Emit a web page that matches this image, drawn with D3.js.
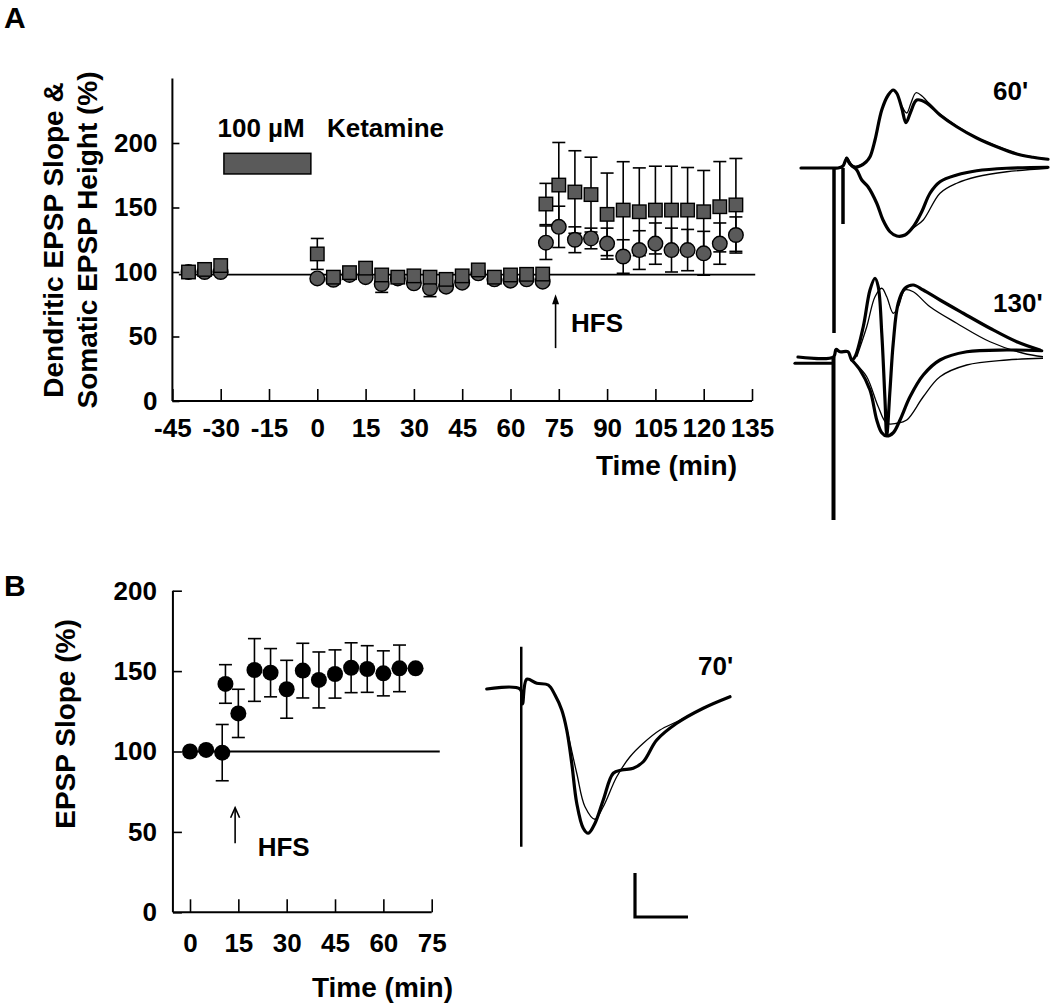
<!DOCTYPE html>
<html>
<head>
<meta charset="utf-8">
<script src="https://cdn.jsdelivr.net/npm/d3@7/dist/d3.min.js"></script>
<style>
body{margin:0;background:#fff;}
text{font-family:"Liberation Sans",Arial,Helvetica,sans-serif;font-weight:bold;fill:#000;}
</style>
</head>
<body>
<script>
// ---------------- DATA ----------------
// Panel A: time (min) and % values
const timesA = [-40,-35,-30,0,5,10,15,20,25,30,35,40,45,50,55,60,65,70,71,75,80,85,90,95,100,105,110,115,120,125,130];
const dendriticA = [100,102,105,114,96,99.5,103,97.7,96,97,96,94.3,97,101.6,96,97.7,98.2,98.4,152.7,167.4,162,160,144.7,148,146.7,148,148,148,146.7,150.6,152];
const dendriticErrA = [2,2,3,12,3,3,3,3,3,3,3,3,3,2,3,3,3,3,16,33,32,29,32,37.5,34,34,34,33,32,35,36];
const somaticA = [100,100,100,95,94,97.7,96,90.7,95,91.2,87.4,88.6,91.7,99,94.3,93.3,94.3,92.5,122.7,135,125,126,122,112,117,122,117,117,114.5,122,128.7];
const somaticErrA = [1,1,1,2,2,2,2,6.5,2,3,6.5,3,2,2,2,2,2,2,13,16,10,8,12,13,15,16,17,16,17,16,14];
const xTicksA = [-45,-30,-15,0,15,30,45,60,75,90,105,120,135];
const yTicksA = [0,50,100,150,200];
const drugA = {start:-29, end:-2, low:176, high:192, label1:"100 µM", label2:"Ketamine"};
const hfsA = 74;
const baselineA = {from:-43, to:136, value:98};

// Panel B
const timesB = [0,5,10,11,15,20,25,30,35,40,45,50,55,60,65,70];
const slopeB = [100,101,99.3,142,123.7,150.7,149,138.7,150.3,144.5,148.2,152.1,151.3,148.6,151.7,151.7];
const errB = [0,0,17.5,12,15,19.5,15,18,17,17.4,15,15.5,14.5,14,14.5,0];
const xTicksB = [0,15,30,45,60,75];
const yTicksB = [0,50,100,150,200];
const hfsB = 14;
const baselineB = {from:0, to:77.5, value:100};

// Traces: [ms, mV]
const tr60ThickUp = [[2.4,0],[15.2,0],[17.2,0],[19.2,0.08],[20.7,0.39],[22,0.16],[24,0.04],[26,0.08],[28.4,0.24],[30,0.45],[32,1.12],[34.7,2.32],[37.3,2.92],[39.3,3.12],[40.7,2.99],[42.7,2.4],[44.4,1.81],[46.3,2.25],[48.7,2.72],[52.7,2.6],[58,2.12],[64.7,1.65],[72.7,1.2],[80.7,0.85],[88.7,0.56],[95.2,0.43],[101.2,0.35]];
const tr60ThinUp = [[24,0.04],[28.4,0.24],[30,0.44],[32,1.12],[34.7,2.32],[37.3,2.92],[39.3,3.12],[40.7,2.99],[42.7,2.48],[44.7,2.2],[46.4,2.6],[48.4,3.01],[50.8,2.88],[52.7,2.68],[58,2.16],[64.7,1.68],[72.7,1.22],[80.7,0.88],[88.7,0.58],[95.2,0.44],[101.2,0.36]];
const tr60ThickDown = [[20.7,0.39],[22.4,0.12],[24.7,-0.08],[26.7,-0.48],[29.2,-0.75],[32.7,-1.41],[35.2,-2.08],[38,-2.55],[40.7,-2.72],[44,-2.68],[47.3,-2.35],[50.7,-1.75],[54,-1.01],[58,-0.55],[64.7,-0.28],[72.7,-0.11],[84.7,-0.01],[101.2,0.03]];
const tr60ThinDown = [[24.7,-0.08],[26.7,-0.48],[29.2,-0.75],[32.7,-1.41],[35.2,-2.08],[38,-2.55],[40.7,-2.72],[44,-2.68],[47.3,-2.4],[51.3,-2.08],[58,-1.01],[64.7,-0.61],[72.7,-0.35],[84.7,-0.15],[101.2,-0.01]];
const tr60Artifacts = [[15.6,0,-6.6],[19.2,0,-2.24]];

const tr130Base2 = [[0,-0.25],[14.6,-0.25]];
const tr130ThickUp = [[1.2,0],[15.4,0],[16.4,0.3],[18,0.21],[21.2,0.21],[22.7,-0.12],[24,0.01],[27.3,1.21],[30,2.68],[32,3.15],[33.3,2.81],[34.7,0.96],[36,-1.72],[36.7,-3.12],[38,-1.32],[39.3,0.56],[41.3,2.16],[44,2.75],[47.3,2.88],[51.3,2.68],[58,2.28],[67.3,1.75],[78,1.15],[88.7,0.61],[98,0.28]];
const tr130ThinUp = [[24.7,0.01],[28.7,1.21],[32,2.41],[34.7,2.75],[36.7,2.41],[39.3,1.75],[41.3,2.01],[44,2.68],[47.3,2.61],[54,2.01],[64.7,1.35],[78,0.61],[91.3,0.15],[99.2,0.01]];
const tr130ThickDown = [[22.7,-0.12],[26,-0.52],[30,-1.32],[32.7,-2.52],[34.7,-3.03],[36.7,-3.16],[39.3,-3.03],[42,-2.52],[46,-1.59],[51.3,-0.72],[58,-0.12],[68.7,0.21],[84.7,0.28],[98.7,0.25]];
const tr130ThinDown = [[24.7,-0.32],[28.7,-0.79],[33.3,-1.99],[36.7,-2.65],[40.7,-2.65],[44.7,-2.52],[51.3,-1.59],[58,-0.79],[68.7,-0.32],[84.7,-0.12],[99.2,-0.05]];
const tr130Artifacts = [[15.4,0,-6.52]];

const tr70Thick = [[2.7,0],[16,0],[17,-0.6],[18.7,0.39],[22.7,0.23],[27.3,0.16],[30,-0.24],[32.7,-0.84],[34.7,-1.64],[36.7,-2.97],[38.7,-4.57],[41.3,-5.57],[43.3,-5.77],[46,-5.37],[49.3,-4.44],[53.3,-3.37],[56.7,-3.24],[61.3,-3.17],[65.3,-2.91],[70.7,-2.04],[78.7,-1.37],[89.3,-0.77],[100,-0.31]];
const tr70Thin = [[30,-0.24],[32.7,-0.84],[34.7,-1.6],[38.7,-3.37],[42,-4.71],[46,-5.21],[49.3,-4.71],[54.7,-3.51],[60,-2.71],[65.3,-2.17],[72,-1.64],[78.7,-1.31],[89.3,-0.77]];
const tr70Artifacts = [[16.5,1.69,-6.31]];
const scaleBar = {t:62, v:-9.12, dt:21.2, dv:1.76};

// ---------------- DRAW ----------------
const svg = d3.select("body").append("svg").attr("width",1050).attr("height",1007);
const GREY = "#5a5a5a";
const fmt = d => String(d);

svg.append("text").attr("x",4).attr("y",28).attr("font-size",30).text("A");
svg.append("text").attr("x",4).attr("y",596).attr("font-size",30).text("B");

// ---- Panel A ----
const xA = d3.scaleLinear().domain([-45,135]).range([172.4,752]);
const yA = d3.scaleLinear().domain([0,250]).range([401,78.5]);
const gA = svg.append("g");

function styleAxis(sel, fs){
  sel.select(".domain").remove();
  sel.selectAll(".tick line").attr("stroke","#000").attr("stroke-width",1.6);
  sel.selectAll(".tick text").attr("font-size",fs).attr("font-family",'"Liberation Sans",Arial,sans-serif').attr("font-weight","bold").attr("fill","#000");
}
const yAxA = gA.append("g").attr("transform",`translate(${xA(-45)},0)`)
  .call(d3.axisLeft(yA).tickValues(yTicksA).tickSize(-7).tickPadding(15).tickFormat(fmt));
styleAxis(yAxA,26);
const xAxA = gA.append("g").attr("transform",`translate(0,${yA(0)})`)
  .call(d3.axisBottom(xA).tickValues(xTicksA).tickSize(-12).tickPadding(17.5).tickFormat(fmt));
styleAxis(xAxA,26);
gA.append("line").attr("x1",xA(-45)).attr("x2",xA(-45)).attr("y1",yA(250)).attr("y2",yA(0)).attr("stroke","#000").attr("stroke-width",2);
gA.append("line").attr("x1",xA(-45)).attr("x2",xA(135)).attr("y1",yA(0)).attr("y2",yA(0)).attr("stroke","#000").attr("stroke-width",2);

// baseline
gA.append("line").attr("x1",xA(baselineA.from)).attr("x2",xA(baselineA.to))
  .attr("y1",yA(baselineA.value)).attr("y2",yA(baselineA.value)).attr("stroke","#000").attr("stroke-width",1.8);

// drug bar
gA.append("rect").attr("x",xA(drugA.start)).attr("y",yA(drugA.high))
  .attr("width",xA(drugA.end)-xA(drugA.start)).attr("height",yA(drugA.low)-yA(drugA.high))
  .attr("fill",GREY).attr("stroke","#000").attr("stroke-width",1.5);
gA.append("text").attr("x",xA(-31)).attr("y",yA(205)).attr("font-size",26).text(drugA.label1);
gA.append("text").attr("x",xA(3)).attr("y",yA(205)).attr("font-size",26).text(drugA.label2);

// error bars
const seriesA = [
  {vals:somaticA, err:somaticErrA},
  {vals:dendriticA, err:dendriticErrA}
];
const capW = 6.5;
seriesA.forEach(s=>{
  timesA.forEach((t,i)=>{
    const e = s.err[i]; if(!e) return;
    const x = xA(t), y1 = yA(s.vals[i]+e), y2 = yA(s.vals[i]-e);
    gA.append("line").attr("x1",x).attr("x2",x).attr("y1",y1).attr("y2",y2).attr("stroke","#000").attr("stroke-width",1.6);
    [y1,y2].forEach(yy=>gA.append("line").attr("x1",x-capW).attr("x2",x+capW).attr("y1",yy).attr("y2",yy).attr("stroke","#000").attr("stroke-width",1.6));
  });
});
// circles (somatic)
gA.selectAll("circle.som").data(timesA).join("circle").attr("class","som")
  .attr("cx",d=>xA(d)).attr("cy",(d,i)=>yA(somaticA[i])).attr("r",7.3)
  .attr("fill",GREY).attr("stroke","#000").attr("stroke-width",1.4);
// squares (dendritic)
const sq = 13.5;
gA.selectAll("rect.den").data(timesA).join("rect").attr("class","den")
  .attr("x",d=>xA(d)-sq/2).attr("y",(d,i)=>yA(dendriticA[i])-sq/2).attr("width",sq).attr("height",sq)
  .attr("fill",GREY).attr("stroke","#000").attr("stroke-width",1.4);

// HFS arrow A
gA.append("line").attr("x1",xA(hfsA)).attr("x2",xA(hfsA)).attr("y1",yA(41)).attr("y2",yA(80)).attr("stroke","#000").attr("stroke-width",1.6);
gA.append("path").attr("d",`M${xA(hfsA)},${yA(82)-1} l-3.5,10 l7,0 z`).attr("fill","#000");
gA.append("text").attr("x",xA(78.8)).attr("y",yA(53.5)).attr("font-size",26).text("HFS");

// axis titles A
gA.append("text").attr("transform",`translate(63,240) rotate(-90)`).attr("text-anchor","middle").attr("font-size",28).text("Dendritic EPSP Slope &");
gA.append("text").attr("transform",`translate(97,240) rotate(-90)`).attr("text-anchor","middle").attr("font-size",28).text("Somatic EPSP Height (%)");
gA.append("text").attr("x",737).attr("y",475).attr("text-anchor","end").attr("font-size",28).text("Time (min)");

// ---- Panel B ----
const xB = d3.scaleLinear().domain([0,75]).range([190,431.7]);
const yB = d3.scaleLinear().domain([0,200]).range([912.3,590.7]);
const gB = svg.append("g");
const xBstart = -5.3;
const yAxB = gB.append("g").attr("transform",`translate(${xB(xBstart)},0)`)
  .call(d3.axisLeft(yB).tickValues(yTicksB).tickSize(-9).tickPadding(16).tickFormat(fmt));
styleAxis(yAxB,26);
const xAxB = gB.append("g").attr("transform",`translate(0,${yB(0)})`)
  .call(d3.axisBottom(xB).tickValues(xTicksB).tickSize(-13).tickPadding(21).tickFormat(fmt));
styleAxis(xAxB,26);
gB.append("line").attr("x1",xB(xBstart)).attr("x2",xB(xBstart)).attr("y1",yB(200)).attr("y2",yB(0)).attr("stroke","#000").attr("stroke-width",2);
gB.append("line").attr("x1",xB(xBstart)).attr("x2",xB(75)).attr("y1",yB(0)).attr("y2",yB(0)).attr("stroke","#000").attr("stroke-width",2);
gB.append("line").attr("x1",xB(baselineB.from)).attr("x2",xB(baselineB.to))
  .attr("y1",yB(baselineB.value)).attr("y2",yB(baselineB.value)).attr("stroke","#000").attr("stroke-width",1.8);
timesB.forEach((t,i)=>{
  const e = errB[i]; if(!e) return;
  const x = xB(t), y1 = yB(slopeB[i]+e), y2 = yB(slopeB[i]-e);
  gB.append("line").attr("x1",x).attr("x2",x).attr("y1",y1).attr("y2",y2).attr("stroke","#000").attr("stroke-width",1.6);
  [y1,y2].forEach(yy=>gB.append("line").attr("x1",x-capW).attr("x2",x+capW).attr("y1",yy).attr("y2",yy).attr("stroke","#000").attr("stroke-width",1.6));
});
gB.selectAll("circle.b").data(timesB).join("circle").attr("class","b")
  .attr("cx",d=>xB(d)).attr("cy",(d,i)=>yB(slopeB[i])).attr("r",8).attr("fill","#000");
// HFS arrow B (open)
gB.append("line").attr("x1",xB(hfsB)).attr("x2",xB(hfsB)).attr("y1",yB(43)).attr("y2",yB(65)).attr("stroke","#000").attr("stroke-width",1.6);
gB.append("path").attr("d",`M${xB(hfsB)-4.5},${yB(65)+10} L${xB(hfsB)},${yB(65)} L${xB(hfsB)+4.5},${yB(65)+10}`).attr("fill","none").attr("stroke","#000").attr("stroke-width",1.6);
gB.append("text").attr("x",xB(21)).attr("y",yB(35)).attr("font-size",26).text("HFS");
gB.append("text").attr("transform",`translate(75,724) rotate(-90)`).attr("text-anchor","middle").attr("font-size",28).text("EPSP Slope (%)");
gB.append("text").attr("x",453).attr("y",997).attr("text-anchor","end").attr("font-size",28).text("Time (min)");

// ---- Traces ----
function drawTrace(g, xs, ys, thick, thin, artifacts, art){
  const line = d3.line().x(d=>xs(d[0])).y(d=>ys(d[1])).curve(d3.curveCatmullRom.alpha(0.5));
  thin.forEach(p=>g.append("path").attr("d",line(p)).attr("fill","none").attr("stroke","#000").attr("stroke-width",1.3).attr("stroke-linejoin","round"));
  thick.forEach(p=>g.append("path").attr("d",line(p)).attr("fill","none").attr("stroke","#000").attr("stroke-width",3.2).attr("stroke-linejoin","round").attr("stroke-linecap","round"));
  artifacts.forEach(a=>g.append("line").attr("x1",xs(a[0])).attr("x2",xs(a[0])).attr("y1",ys(a[1])).attr("y2",ys(a[2])).attr("stroke","#000").attr("stroke-width",art));
}
const gT = svg.append("g");
const xTA = d3.scaleLinear().domain([0,100]).range([795,1045]);
const y60 = d3.scaleLinear().domain([-1,1]).range([193,143]);
const y130 = d3.scaleLinear().domain([-1,1]).range([382,332]);
drawTrace(gT, xTA, y60, [tr60ThickUp,tr60ThickDown], [tr60ThinUp,tr60ThinDown], tr60Artifacts, 3.5);
drawTrace(gT, xTA, y130, [tr130ThickUp,tr130ThickDown,tr130Base2], [tr130ThinUp,tr130ThinDown], tr130Artifacts, 4);
gT.append("text").attr("x",993).attr("y",100).attr("font-size",26).text("60'");
gT.append("text").attr("x",993).attr("y",312).attr("font-size",26).text("130'");

const xTB = d3.scaleLinear().domain([0,100]).range([480,730]);
const y70 = d3.scaleLinear().domain([-1,1]).range([714,664]);
drawTrace(gT, xTB, y70, [tr70Thick], [tr70Thin], tr70Artifacts, 2.5);
gT.append("text").attr("x",698).attr("y",675).attr("font-size",26).text("70'");
gT.append("path").attr("d",`M${xTB(scaleBar.t)},${y70(scaleBar.v+scaleBar.dv)} L${xTB(scaleBar.t)},${y70(scaleBar.v)} L${xTB(scaleBar.t+scaleBar.dt)},${y70(scaleBar.v)}`)
  .attr("fill","none").attr("stroke","#000").attr("stroke-width",3.2);
</script>
</body>
</html>
